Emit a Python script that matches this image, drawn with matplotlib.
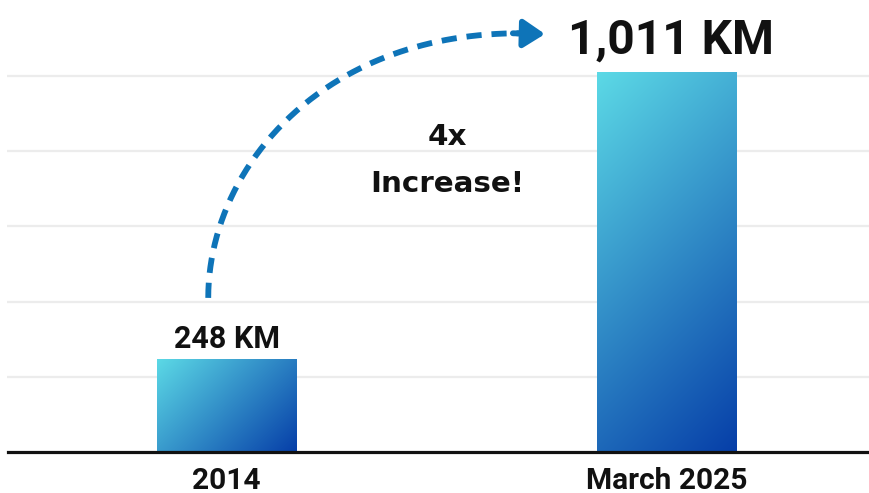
import numpy as np
import matplotlib
matplotlib.use("Agg")
import matplotlib.pyplot as plt

# Network length
categories = ["2014", "March 2025"]
values = [248, 1011]
value_labels = ["248 KM", "1,011 KM"]
grid_levels = [200, 400, 600, 800, 1000]
note_lines = ["4x", "Increase!"]

W, H, DPI = 869, 493, 100
fig = plt.figure(figsize=(W / DPI, H / DPI), dpi=DPI)
fig.patch.set_facecolor("white")

ax_left, ax_bottom, ax_w = 7.5, 41, 861.5
ax = fig.add_axes([ax_left / W, ax_bottom / H, ax_w / W, (H - ax_bottom) / H])
px_per_unit = 380 / 1011.0
ax.set_ylim(0, (H - ax_bottom) / px_per_unit)
ax.set_xlim(-0.498, 1.459)
ax.patch.set_alpha(0)

# light horizontal guides
for g in grid_levels:
    ax.axhline(g, color="#ececec", lw=1.6, zorder=0)

for s in ["left", "right", "top"]:
    ax.spines[s].set_visible(False)
ax.spines["bottom"].set_linewidth(2.3)
ax.spines["bottom"].set_color("#111111")
ax.set_yticks([])

x = np.arange(len(categories))
bar_w = 0.3166
ax.set_xticks(x, categories, fontfamily="Roboto", fontweight="bold", fontsize=21.5,
              color="#111111")
ax.tick_params(axis="x", length=0, pad=10.5)

# diagonal gradient fill (top-left cyan -> bottom-right deep blue)
c0 = np.array([92, 218, 230]) / 255
c1 = np.array([6, 62, 168]) / 255
data_to_px_x = ax_w / (ax.get_xlim()[1] - ax.get_xlim()[0])
for xi, v in zip(x, values):
    bars = ax.bar(xi, v, width=bar_w, color="none", zorder=2)
    rect = bars[0]
    wpx = bar_w * data_to_px_x
    hpx = v * px_per_unit
    nx, ny = 200, 300
    u = np.linspace(0, 1, nx)[None, :]
    vv = np.linspace(0, 1, ny)[:, None]
    t = (u * wpx + vv * hpx) / (wpx + hpx)
    img = c0[None, None, :] * (1 - t[..., None]) + c1[None, None, :] * t[..., None]
    im = ax.imshow(img, extent=(xi - bar_w / 2, xi + bar_w / 2, 0, v), origin="upper",
                   aspect="auto", zorder=2, interpolation="bilinear")
    im.set_clip_path(rect)

# value labels above bars
ax.text(x[0], values[0] + 30, value_labels[0], ha="center", va="baseline",
        fontfamily="Roboto", fontweight="bold", fontsize=22, color="#111111")
ax.text(x[1] + 0.01, values[1] + 50, value_labels[1], ha="center", va="baseline",
        fontfamily="Roboto", fontweight="bold", fontsize=34.5, color="#111111", clip_on=False)

# growth note
ax.text(0.502, 817, note_lines[0], ha="center", va="baseline", fontfamily="DejaVu Sans",
        fontweight="bold", fontsize=21.2, color="#111111")
ax.text(0.502, 692, note_lines[1], ha="center", va="baseline", fontfamily="DejaVu Sans",
        fontweight="bold", fontsize=21.2, color="#111111")

# dashed curved arrow from the small bar to the large one
arrow_col = "#0e74b8"
p0 = (-0.042, 410)
p1 = (-0.042, 750)
p2 = (0.212, 1114)
p3 = (0.665, 1114)
ts = np.linspace(0, 1, 200)[:, None]
pts = ((1 - ts) ** 3 * np.array(p0) + 3 * (1 - ts) ** 2 * ts * np.array(p1)
       + 3 * (1 - ts) * ts ** 2 * np.array(p2) + ts ** 3 * np.array(p3))
ax.plot(pts[:, 0], pts[:, 1], color=arrow_col, lw=4.2, linestyle=(0, (2.6, 1.7)),
        solid_capstyle="butt", dash_capstyle="butt", clip_on=False, zorder=3)
ax.annotate("", xy=(0.723, 1112), xytext=(0.65, 1114),
            arrowprops=dict(arrowstyle="-|>,head_length=1.3,head_width=0.85",
                            color=arrow_col, lw=4.2, shrinkA=0, shrinkB=0,
                            joinstyle="round", capstyle="round"),
            annotation_clip=False, zorder=3)

fig.savefig("out.png", dpi=DPI)
